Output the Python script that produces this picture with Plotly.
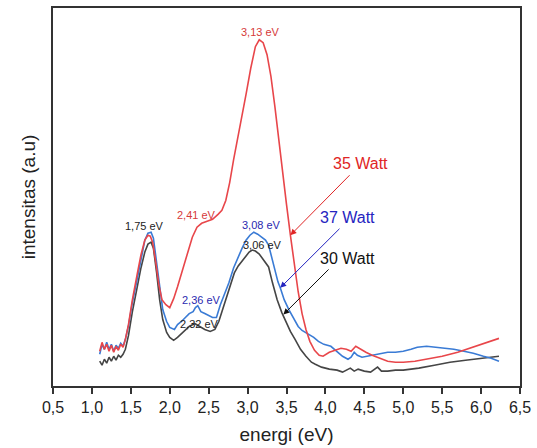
import plotly.graph_objects as go

# ---- data (energy in eV, intensity in arbitrary units) ----
x_35 = [1.10, 1.13, 1.16, 1.19, 1.22, 1.25, 1.28, 1.31, 1.34, 1.37, 1.40, 1.43, 1.47, 1.52, 1.58, 1.63, 1.68, 1.72, 1.75,
        1.78, 1.82, 1.86, 1.90, 1.95, 2.00, 2.05, 2.10, 2.15, 2.22, 2.29, 2.35, 2.41, 2.48, 2.55, 2.62, 2.67, 2.72, 2.77,
        2.82, 2.87, 2.92, 2.98, 3.04, 3.10, 3.15, 3.20, 3.25, 3.30, 3.35, 3.40, 3.45, 3.50, 3.55, 3.60, 3.65, 3.70, 3.75,
        3.80, 3.86, 3.92, 3.97, 4.05, 4.12, 4.20, 4.27, 4.33, 4.39, 4.45, 4.52, 4.60, 4.70, 4.80, 4.90, 5.00, 5.15, 5.30,
        5.50, 5.70, 5.90, 6.05, 6.23]
y_35 = [35, 44, 37, 42, 35, 41, 34, 40, 36, 42, 39, 47, 62, 87, 112, 132, 147, 152, 151,
        145, 125, 102, 87, 82, 79, 88, 100, 113, 130, 150, 160, 164, 166, 168, 173, 177, 187, 205,
        228, 250, 269, 294, 320, 342, 349, 346, 334, 312, 282, 247, 215, 183, 152, 122, 95, 73, 57,
        45, 36, 31, 30, 34, 36, 38, 37, 35, 40, 37, 34, 31, 28, 25, 24, 24, 25, 27,
        30, 34, 39, 43, 48]

x_37 = [1.10, 1.13, 1.16, 1.19, 1.22, 1.25, 1.28, 1.31, 1.34, 1.37, 1.40, 1.43, 1.47, 1.52, 1.58, 1.63, 1.68, 1.72, 1.76,
        1.79, 1.83, 1.87, 1.91, 1.96, 2.00, 2.06, 2.10, 2.15, 2.20, 2.25, 2.30, 2.33, 2.36, 2.40, 2.45, 2.50, 2.55, 2.60,
        2.65, 2.70, 2.76, 2.82, 2.88, 2.93, 2.98, 3.03, 3.08, 3.13, 3.18, 3.23, 3.27, 3.31, 3.35, 3.39, 3.42, 3.47, 3.53,
        3.60, 3.65, 3.70, 3.77, 3.85, 3.91, 3.98, 4.07, 4.15, 4.22, 4.29, 4.33, 4.37, 4.41, 4.47, 4.54, 4.62, 4.70, 4.80,
        4.90, 5.00, 5.10, 5.18, 5.30, 5.43, 5.55, 5.65, 5.78, 5.90, 6.03, 6.13, 6.23]
y_37 = [32, 42, 37, 44, 37, 42, 35, 41, 38, 43, 40, 47, 61, 84, 107, 129, 147, 154, 155,
        149, 125, 97, 77, 65, 59, 57, 62, 65, 69, 73, 75, 79, 81, 75, 73, 71, 69, 69,
        82, 92, 104, 119, 131, 139, 147, 152, 155, 153, 150, 147, 142, 129, 115, 105, 99, 87, 77,
        67, 60, 56, 53, 49, 45, 42, 40, 35, 30, 27, 29, 34, 31, 29, 30, 31, 32, 34,
        34, 35, 37, 39, 40, 39, 38, 37, 35, 33, 30, 28, 25]

x_30 = [1.10, 1.13, 1.16, 1.19, 1.22, 1.25, 1.28, 1.31, 1.34, 1.37, 1.40, 1.43, 1.47, 1.52, 1.58, 1.63, 1.68, 1.72, 1.76,
        1.79, 1.83, 1.87, 1.91, 1.96, 2.00, 2.05, 2.10, 2.15, 2.20, 2.25, 2.32, 2.38, 2.45, 2.52, 2.58, 2.63, 2.68, 2.73,
        2.78, 2.83, 2.88, 2.93, 2.98, 3.02, 3.06, 3.10, 3.15, 3.20, 3.27, 3.32, 3.38, 3.44, 3.50, 3.55, 3.61, 3.68, 3.75,
        3.82, 3.87, 3.95, 4.05, 4.15, 4.22, 4.28, 4.32, 4.37, 4.42, 4.50, 4.58, 4.67, 4.72, 4.80, 4.90, 5.00, 5.20, 5.40,
        5.60, 5.80, 6.00, 6.23]
y_30 = [25, 21, 27, 23, 29, 25, 30, 26, 31, 29, 32, 37, 51, 75, 99, 119, 135, 143, 145,
        139, 115, 87, 67, 54, 49, 46, 49, 53, 57, 60, 63, 60, 57, 55, 57, 65, 77, 89,
        102, 114, 121, 126, 131, 135, 137, 136, 133, 128, 120, 104, 87, 74, 63, 55, 47, 37, 30,
        24, 22, 19, 17, 16, 14, 16, 18, 15, 17, 15, 14, 19, 15, 15, 16, 16, 18, 21,
        24, 26, 28, 30]

x_ticks = [0.5, 1.0, 1.5, 2.0, 2.5, 3.0, 3.5, 4.0, 4.5, 5.0, 5.5, 6.0, 6.5]
x_tick_labels = ["0,5", "1,0", "1,5", "2,0", "2,5", "3,0", "3,5", "4,0", "4,5", "5,0", "5,5", "6,0", "6,5"]

# peak labels: (text, x, y, colour)
peak_labels = [
    ("3,13 eV", 3.17, 357, "#d63a3a"),
    ("2,41 eV", 2.34, 172, "#d63a3a"),
    ("1,75 eV", 1.68, 161, "#222222"),
    ("3,08 eV", 3.18, 162, "#2a2ab0"),
    ("3,06 eV", 3.19, 142, "#222222"),
    ("2,36 eV", 2.41, 87, "#2a2ab0"),
    ("2,32 eV", 2.38, 63, "#222222"),
]

# series labels with arrows: (text, label x, label y, arrow start x, y, arrow tip x, y, colour)
series_labels = [
    ("35 Watt", 4.45, 224, 4.33, 214, 3.55, 152, "#e02525"),
    ("37 Watt", 4.28, 170, 4.20, 160, 3.42, 99, "#2525c0"),
    ("30 Watt", 4.28, 129, 4.06, 119, 3.46, 72, "#111111"),
]

RED = "#e8464a"
BLUE = "#3a7bd5"
BLACK = "#454545"

fig = go.Figure()
fig.add_trace(go.Scatter(x=x_30, y=y_30, mode="lines", line=dict(color=BLACK, width=1.6), name="30 Watt"))
fig.add_trace(go.Scatter(x=x_37, y=y_37, mode="lines", line=dict(color=BLUE, width=1.6), name="37 Watt"))
fig.add_trace(go.Scatter(x=x_35, y=y_35, mode="lines", line=dict(color=RED, width=1.6), name="35 Watt"))

anns = []
for t, xx, yy, c in peak_labels:
    anns.append(dict(x=xx, y=yy, xref="x", yref="y", text=t, showarrow=False,
                     font=dict(size=11, color=c, family="Liberation Sans, Arial, sans-serif")))
for t, lx, ly, sx, sy, tx, ty, c in series_labels:
    anns.append(dict(x=lx, y=ly, xref="x", yref="y", text=t, showarrow=False,
                     font=dict(size=16, color=c, family="Liberation Sans, Arial, sans-serif")))
    anns.append(dict(x=tx, y=ty, ax=sx, ay=sy, xref="x", yref="y", axref="x", ayref="y",
                     text="", showarrow=True, arrowhead=2, arrowsize=1.2, arrowwidth=1,
                     arrowcolor=c))

fig.update_layout(
    width=537, height=448,
    margin=dict(l=53, r=13, t=6, b=62),
    paper_bgcolor="white", plot_bgcolor="white",
    showlegend=False,
    font=dict(family="Liberation Sans, Arial, sans-serif", color="#222222"),
    annotations=anns,
)
fig.update_xaxes(range=[0.5, 6.5], tickvals=x_ticks, ticktext=x_tick_labels,
                 ticks="outside", ticklen=6, tickwidth=1.5, tickcolor="#333333",
                 showline=True, linecolor="#333333", linewidth=2, mirror=True,
                 showgrid=False, zeroline=False, tickfont=dict(size=16, color="#222222"),
                 title=dict(text="energi (eV)", font=dict(size=19, color="#222222"), standoff=12))
fig.update_yaxes(range=[0, 381], showticklabels=False, ticks="",
                 showline=True, linecolor="#333333", linewidth=2, mirror=True,
                 showgrid=False, zeroline=False,
                 title=dict(text="intensitas (a.u)", font=dict(size=19, color="#222222"), standoff=10))

fig.write_html("out.html", config={"displayModeBar": False},
               post_script="document.body.style.margin='0px';")
